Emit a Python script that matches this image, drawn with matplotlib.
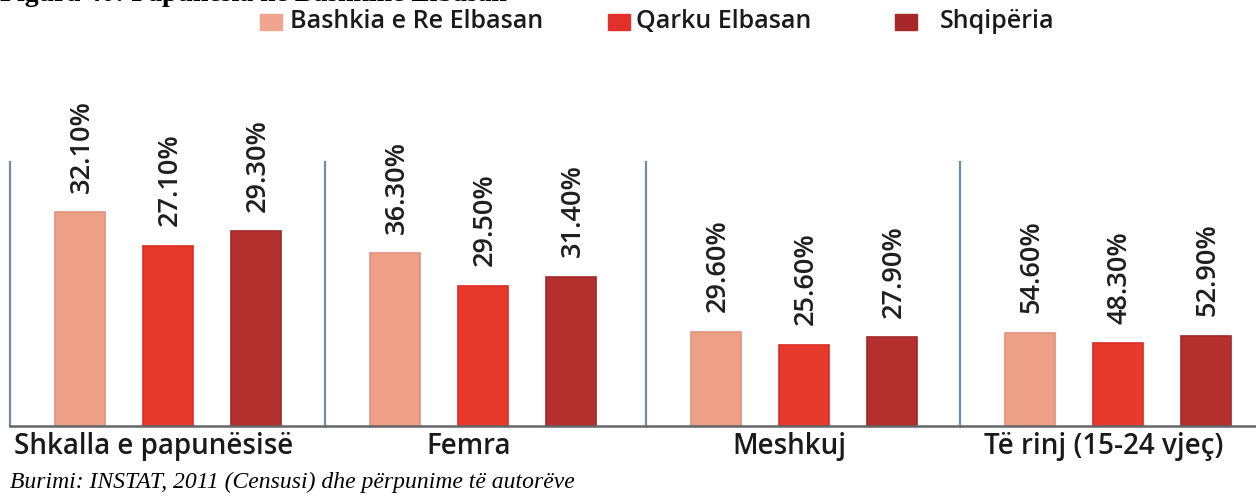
import matplotlib.pyplot as plt

# Unemployment rates (%) by group and area
groups = ['Shkalla e papunësisë', 'Femra', 'Meshkuj', 'Të rinj (15-24 vjeç)']
series = ['Bashkia e Re Elbasan', 'Qarku Elbasan', 'Shqipëria']
bashkia = [32.1, 36.3, 29.6, 54.6]
qarku = [27.1, 29.5, 25.6, 48.3]
shqiperia = [29.3, 31.4, 27.9, 52.9]

# each group panel has its own scale
ymax = [55.0, 77.0, 115.0, 214.0]

bar_colors = ['#eda086', '#e8392d', '#b4302c']
edge_colors = ['#e0917a', '#d62d24', '#a0282a']
legend_colors = ['#f0a58f', '#e0322a', '#a8282a']

W, H = 1256, 498
fig = plt.figure(figsize=(W / 100, H / 100), dpi=100)
plt.rcParams['font.family'] = ['Open Sans', 'DejaVu Sans']

# panel edges in pixels
edges = [10, 325, 646, 960, 1256]
base_y, top_y = 426, 60
step = 88.0

for i, name in enumerate(groups):
    left, right = edges[i], edges[i + 1]
    ax = fig.add_axes([left / W, (H - base_y) / H, (right - left) / W, (base_y - top_y) / H])
    vals = [bashkia[i], qarku[i], shqiperia[i]]
    x0 = -0.8
    ax.set_xlim(x0, x0 + (right - left) / step)
    ax.set_ylim(0, ymax[i])
    ax.bar(range(3), vals, width=0.57, color=bar_colors, edgecolor=edge_colors, linewidth=1.2)
    for xi, v in enumerate(vals):
        ax.annotate(f'{v:.2f}%', (xi, v), xytext=(1, 14), textcoords='offset points',
                    rotation=90, ha='center', va='bottom', fontsize=19.5,
                    weight='semibold', color='#1e1e1e')
    for s in ['top', 'right']:
        ax.spines[s].set_visible(False)
    ax.spines['left'].set_color('#6f8ea3')
    ax.spines['left'].set_linewidth(1.6)
    ax.spines['left'].set_bounds(0, 0.72 * ymax[i])
    ax.spines['bottom'].set_color('#666666')
    ax.spines['bottom'].set_linewidth(1.8)
    ax.set_yticks([])
    ax.set_xticks([0.83])
    ax.set_xticklabels([name], fontsize=20, weight='semibold', color='#1a1a1a')
    ax.tick_params(axis='x', length=0, pad=4)

# legend row
legend_x = [(260, 290), (608, 636), (895, 940)]
for (sx, tx), lab, c in zip(legend_x, series, legend_colors):
    fig.patches.append(plt.Rectangle((sx / W, 1 - 30 / H), 22 / W, 16 / H,
                                     transform=fig.transFigure, color=c))
    fig.text(tx / W, 1 - 21 / H, lab, fontsize=18, weight='semibold',
             va='center', ha='left', color='#1a1a1a')

# figure title, cut by the top edge
fig.text(0, 1 + 6 / H, 'Figura 40: Papunësia në Bashkinë Elbasan', fontsize=20,
         family='Liberation Serif', weight='bold', va='center', ha='left')

fig.text(10 / W, 1 - 482 / H, 'Burimi: INSTAT, 2011 (Censusi) dhe përpunime të autorëve',
         fontsize=17, family='Liberation Serif', style='italic', va='center', ha='left')

fig.savefig('out.png', dpi=100)
